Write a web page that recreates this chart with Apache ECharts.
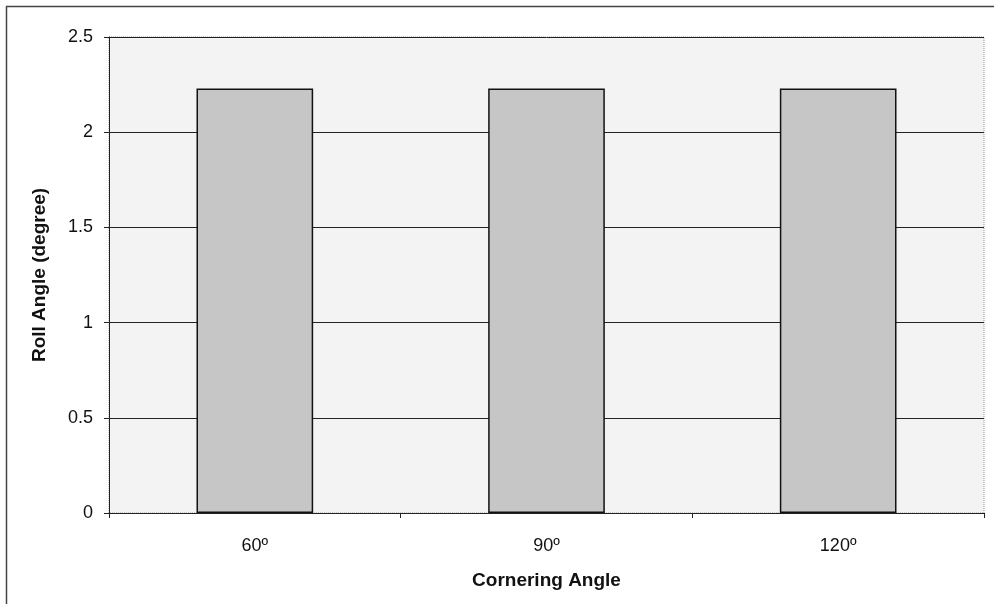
<!DOCTYPE html>
<html><head><meta charset="utf-8">
<script src="https://cdn.jsdelivr.net/npm/echarts@6/dist/echarts.min.js"></script>
<style>html,body{margin:0;padding:0;background:#fff}#c{width:994px;height:604px}</style>
</head><body><div id="c"></div>
<script>
const categories = ['60º', '90º', '120º'];
const rollAngle = [2.23, 2.23, 2.23];
const yTicks = [0, 0.5, 1, 1.5, 2, 2.5];

const chart = echarts.init(document.getElementById('c'));
chart.setOption({
  animation: false,
  backgroundColor: '#fff',
  textStyle: { fontFamily: 'Liberation Sans, Arial, sans-serif' },
  graphic: [
    { type: 'rect', shape: { x: 6.5, y: 6.5, width: 1000, height: 1000 }, style: { fill: null, stroke: '#444', lineWidth: 1.5 }, z: 0 },
    { type: 'rect', shape: { x: 109, y: 37, width: 875, height: 476 }, style: { fill: null, stroke: '#999', lineWidth: 1, lineDash: [1, 1] }, z: 0 }
  ],
  grid: { left: 109, top: 37, right: 10, bottom: 91, show: true, backgroundColor: '#f3f3f3', borderWidth: 0 },
  xAxis: {
    type: 'category', data: categories,
    name: 'Cornering Angle', nameLocation: 'middle', nameGap: 58,
    nameTextStyle: { fontWeight: 'bold', fontSize: 19, color: '#111' },
    axisLine: { lineStyle: { color: '#222', width: 1 } },
    axisTick: { show: true, alignWithLabel: false, length: 5, lineStyle: { color: '#222' } },
    axisLabel: { fontSize: 18, color: '#111', margin: 24 }
  },
  yAxis: {
    type: 'value', min: 0, max: 2.5, interval: 0.5,
    name: 'Roll Angle (degree)', nameLocation: 'middle', nameGap: 60, nameRotate: 90,
    nameTextStyle: { fontWeight: 'bold', fontSize: 19, color: '#111' },
    axisLine: { show: true, lineStyle: { color: '#222', width: 1 } },
    axisTick: { show: true, length: 5, lineStyle: { color: '#222' } },
    axisLabel: { fontSize: 18, color: '#111', margin: 16, formatter: v => yTicks.includes(v) ? String(v) : '' },
    splitLine: { show: true, lineStyle: { color: '#222', width: 1 } }
  },
  series: [{
    type: 'bar', data: rollAngle, barWidth: '40%',
    itemStyle: { color: '#c6c6c6', borderColor: '#111', borderWidth: 1.5 }
  }]
});
</script></body></html>
